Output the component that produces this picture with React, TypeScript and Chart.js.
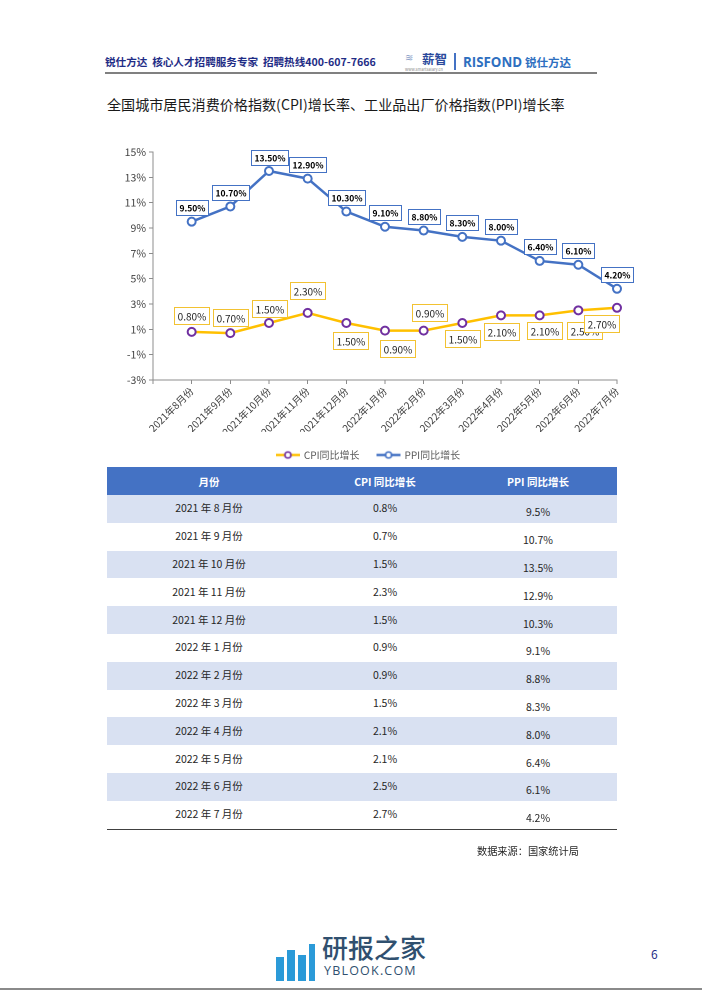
import React, { useEffect, useRef } from "react";
import { Chart, registerables } from "chart.js";

Chart.register(...registerables);

// ---------- data ----------
const months = [
  "2021年8月份", "2021年9月份", "2021年10月份", "2021年11月份", "2021年12月份",
  "2022年1月份", "2022年2月份", "2022年3月份", "2022年4月份", "2022年5月份",
  "2022年6月份", "2022年7月份",
];
const cpiValues = [0.8, 0.7, 1.5, 2.3, 1.5, 0.9, 0.9, 1.5, 2.1, 2.1, 2.5, 2.7];
const ppiValues = [9.5, 10.7, 13.5, 12.9, 10.3, 9.1, 8.8, 8.3, 8.0, 6.4, 6.1, 4.2];
const yTicks = { min: -3, max: 15, step: 2 };
const seriesNames = ["CPI同比增长", "PPI同比增长"];
const tableHeaders = ["月份", "CPI 同比增长", "PPI 同比增长"];

// ---------- style ----------
const FONT = "'Noto Sans CJK SC', 'Noto Sans', sans-serif";
const CPI_LINE = "#ffc000";
const CPI_MARK = "#7030a0";
const PPI_LINE = "#4472c4";
const AXIS = "#8c8c8c";
const NAVY = "#1f2d86";

// label offsets [dx, dy] relative to each point (layout only)
const ppiLabelOffsets = months.map(() => [0, -14]);
const cpiLabelOffsets = [
  [0, -16], [0, -16], [0, -15], [0, -22], [4, 17], [12, 18],
  [6, -18], [0, 15], [0, 16], [5, 15], [6, 20], [-16, 16],
];

function legendIcon(line: string, marker: string) {
  const c = document.createElement("canvas");
  c.width = 24;
  c.height = 10;
  const x = c.getContext("2d")!;
  x.strokeStyle = line;
  x.lineWidth = 2.5;
  x.beginPath();
  x.moveTo(0, 5);
  x.lineTo(24, 5);
  x.stroke();
  x.beginPath();
  x.arc(12, 5, 3, 0, Math.PI * 2);
  x.fillStyle = "#fff";
  x.fill();
  x.strokeStyle = marker;
  x.lineWidth = 1.6;
  x.stroke();
  return c;
}

const boxLabels = {
  id: "boxLabels",
  afterLayout(chart: any, _args: any, opts: any) {
    const lg = chart.legend;
    if (lg && opts.legendShift) {
      lg.left += opts.legendShift;
      lg.right += opts.legendShift;
    }
  },
  afterDatasetsDraw(chart: any, _args: any, opts: any) {
    const ctx = chart.ctx;
    ctx.save();
    chart.data.datasets.forEach((ds: any, di: number) => {
      const cfg = opts.sets[di];
      const meta = chart.getDatasetMeta(di);
      meta.data.forEach((pt: any, i: number) => {
        const text = ds.data[i].y.toFixed(2) + "%";
        const [dx, dy] = cfg.offsets[i];
        ctx.font = cfg.font;
        const w = Math.round(ctx.measureText(text).width + cfg.padX * 2);
        const h = cfg.height;
        const cx = pt.x + dx;
        const cy = pt.y + dy;
        const l = Math.round(cx - w / 2) + 0.5;
        const t = Math.round(cy - h / 2) + 0.5;
        ctx.fillStyle = "#fff";
        ctx.fillRect(l, t, w, h);
        ctx.strokeStyle = cfg.border;
        ctx.lineWidth = 1;
        ctx.strokeRect(l, t, w, h);
        ctx.fillStyle = cfg.color;
        ctx.textAlign = "center";
        ctx.textBaseline = "middle";
        ctx.fillText(text, l + w / 2, t + h / 2 + 0.5);
      });
    });
    ctx.restore();
  },
};

function LineChart() {
  const ref = useRef<HTMLCanvasElement>(null);
  useEffect(() => {
    const icons = [legendIcon(CPI_LINE, CPI_MARK), legendIcon(PPI_LINE, PPI_LINE)];
    const chart = new Chart(ref.current!, {
      type: "line",
      data: {
        datasets: [
          {
            label: seriesNames[0],
            data: cpiValues.map((v, i) => ({ x: i + 1, y: v })),
            borderColor: CPI_LINE,
            borderWidth: 2.5,
            pointRadius: 4,
            pointBorderWidth: 2,
            pointBackgroundColor: "#fff",
            pointBorderColor: CPI_MARK,
            clip: false as any,
          },
          {
            label: seriesNames[1],
            data: ppiValues.map((v, i) => ({ x: i + 1, y: v })),
            borderColor: PPI_LINE,
            borderWidth: 2.5,
            pointRadius: 4,
            pointBorderWidth: 2,
            pointBackgroundColor: "#fff",
            pointBorderColor: PPI_LINE,
            clip: false as any,
          },
        ],
      },
      options: {
        animation: false,
        responsive: false,
        devicePixelRatio: 2,
        layout: { padding: { left: 0, right: 23, top: 12, bottom: 0 } },
        scales: {
          x: {
            type: "linear",
            min: 0,
            max: months.length,
            afterFit: (s: any) => {
              s.height = 52;
            },
            afterBuildTicks: (s: any) => {
              s.ticks = months.map((_, i) => ({ value: i })).concat([{ value: months.length }]);
            },
            ticks: {
              stepSize: 1,
              autoSkip: false,
              minRotation: 45,
              maxRotation: 45,
              padding: 1,
              color: "#404040",
              font: { family: FONT, size: 10 },
              callback: (v: any) => (v >= 1 ? months[v - 1] : ""),
            },
            grid: { display: true, drawOnChartArea: false, drawTicks: true, tickLength: 4, color: AXIS },
            border: { display: true, color: AXIS, width: 1 },
          },
          y: {
            min: yTicks.min,
            max: yTicks.max,
            afterFit: (s: any) => {
              s.width = 53;
            },
            ticks: {
              stepSize: yTicks.step,
              padding: 3,
              color: "#404040",
              font: { family: FONT, size: 10.5 },
              callback: (v: any) => v + "%",
            },
            grid: { display: true, drawOnChartArea: false, drawTicks: true, tickLength: 4, color: AXIS },
            border: { display: true, color: AXIS, width: 1 },
          },
        },
        plugins: {
          tooltip: { enabled: false },
          legend: {
            position: "bottom",
            labels: {
              usePointStyle: true,
              pointStyleWidth: 22,
              padding: 18,
              color: "#595959",
              font: { family: FONT, size: 10 },
              generateLabels: (c: any) => {
                const items = (Chart.defaults.plugins.legend.labels as any).generateLabels(c);
                items.forEach((it: any, i: number) => {
                  it.pointStyle = icons[i];
                });
                return items;
              },
            },
          },
          boxLabels: {
            legendShift: 10,
            sets: [
              {
                offsets: cpiLabelOffsets,
                font: `10px ${FONT}`,
                padX: 3,
                height: 17,
                border: "#f2c232",
                color: "#262626",
              },
              {
                offsets: ppiLabelOffsets,
                font: `bold 8.5px ${FONT}`,
                padX: 3,
                height: 15,
                border: PPI_LINE,
                color: "#000",
              },
            ],
          },
        } as any,
      },
      plugins: [boxLabels],
    });
    return () => chart.destroy();
  }, []);
  return (
    <canvas
      ref={ref}
      width={540}
      height={330}
      style={{ position: "absolute", left: 100, top: 140, width: 540, height: 330 }}
    />
  );
}

function DataTable() {
  const rowH = 27.8;
  const cols = [
    { w: 204, dy: 0 },
    { w: 148, dy: 0 },
    { w: 158, dy: 4 },
  ];
  const rows = months.map((m, i) => [
    m.replace(/(\d+)年(\d+)月份/, "$1 年 $2 月份"),
    cpiValues[i].toFixed(1) + "%",
    ppiValues[i].toFixed(1) + "%",
  ]);
  return (
    <div style={{ position: "absolute", left: 107, top: 467, width: 510, fontFamily: FONT }}>
      <div style={{ display: "flex", height: 28, background: "#4472c4", color: "#fff", fontWeight: 700, fontSize: 10.5 }}>
        {tableHeaders.map((h, j) => (
          <div key={j} style={{ width: cols[j].w, display: "flex", alignItems: "center", justifyContent: "center" }}>
            {h}
          </div>
        ))}
      </div>
      {rows.map((r, i) => (
        <div
          key={i}
          style={{
            display: "flex",
            height: rowH,
            background: i % 2 === 0 ? "#d9e1f2" : "#fff",
            color: "#262626",
            fontSize: 10.5,
          }}
        >
          {r.map((c, j) => (
            <div
              key={j}
              style={{
                width: cols[j].w,
                display: "flex",
                alignItems: "center",
                justifyContent: "center",
                transform: `translateY(${cols[j].dy - 1}px)`,
              }}
            >
              {c}
            </div>
          ))}
        </div>
      ))}
      <div style={{ height: 0, borderTop: "1.5px solid #404040" }} />
    </div>
  );
}

export default function App() {
  return (
    <div style={{ position: "absolute", left: 0, top: 0, width: 702, height: 991, background: "#fff", fontFamily: FONT, overflow: "hidden" }}>
      {/* page header */}
      <div style={{ position: "absolute", left: 105, top: 53, fontSize: 10.6, fontWeight: 700, color: NAVY, whiteSpace: "nowrap", lineHeight: "18px" }}>
        锐仕方达&nbsp;&nbsp;核心人才招聘服务专家&nbsp;&nbsp;招聘热线400-607-7666
      </div>
      <div style={{ position: "absolute", left: 405, top: 51, width: 16, fontSize: 10, color: "#8aa0c8", lineHeight: "12px" }}>≋</div>
      <div style={{ position: "absolute", left: 422, top: 50, fontSize: 12.5, fontWeight: 700, color: "#2b4a9c", lineHeight: "18px", whiteSpace: "nowrap" }}>
        薪智
      </div>
      <div style={{ position: "absolute", left: 405, top: 67, fontSize: 4, color: "#888", lineHeight: "5px", whiteSpace: "nowrap" }}>
        www.smartsalary.cn
      </div>
      <div style={{ position: "absolute", left: 454, top: 53, width: 2, height: 17, background: "#4472c4" }} />
      <div style={{ position: "absolute", left: 463, top: 52, fontSize: 13.3, fontWeight: 700, color: "#2e6fbf", lineHeight: "20px", whiteSpace: "nowrap", fontFamily: "'Open Sans', sans-serif" }}>
        RISFOND
      </div>
      <div style={{ position: "absolute", left: 525, top: 53, fontSize: 11.5, fontWeight: 700, color: "#2e6fbf", lineHeight: "18px", whiteSpace: "nowrap" }}>
        锐仕方达
      </div>
      <div style={{ position: "absolute", left: 105, top: 72, width: 492, height: 2, background: "#808080" }} />

      {/* title */}
      <div style={{ position: "absolute", left: 107, top: 94, fontSize: 14.1, color: "#1a1a1a", whiteSpace: "nowrap", lineHeight: "20px" }}>
        全国城市居民消费价格指数(CPI)增长率、工业品出厂价格指数(PPI)增长率
      </div>

      <LineChart />
      <DataTable />

      <div style={{ position: "absolute", left: 477, top: 843, fontSize: 10.2, color: "#262626", whiteSpace: "nowrap", lineHeight: "16px" }}>
        数据来源：国家统计局
      </div>

      {/* footer watermark */}
      <div style={{ position: "absolute", left: 276, top: 957, width: 8, height: 24, background: "#2b9ad8" }} />
      <div style={{ position: "absolute", left: 287, top: 950, width: 8, height: 31, background: "#2b9ad8" }} />
      <div style={{ position: "absolute", left: 298, top: 955, width: 8, height: 26, background: "#2b9ad8" }} />
      <div style={{ position: "absolute", left: 309, top: 944, width: 6, height: 37, background: "#2b9ad8" }} />
      <div style={{ position: "absolute", left: 322, top: 931, fontSize: 26, color: "#30506f", lineHeight: "32px", whiteSpace: "nowrap", fontWeight: 500 }}>
        研报之家
      </div>
      <div style={{ position: "absolute", left: 324, top: 963, fontSize: 12.5, color: "#30506f", lineHeight: "16px", whiteSpace: "nowrap", letterSpacing: 1.2, fontFamily: "'Open Sans', sans-serif" }}>
        YBLOOK.COM
      </div>
      <div style={{ position: "absolute", left: 651, top: 946, fontSize: 12, color: NAVY, lineHeight: "16px" }}>6</div>
      <div style={{ position: "absolute", left: 0, top: 988, width: 702, height: 2, background: "#8a8a8a" }} />
    </div>
  );
}
